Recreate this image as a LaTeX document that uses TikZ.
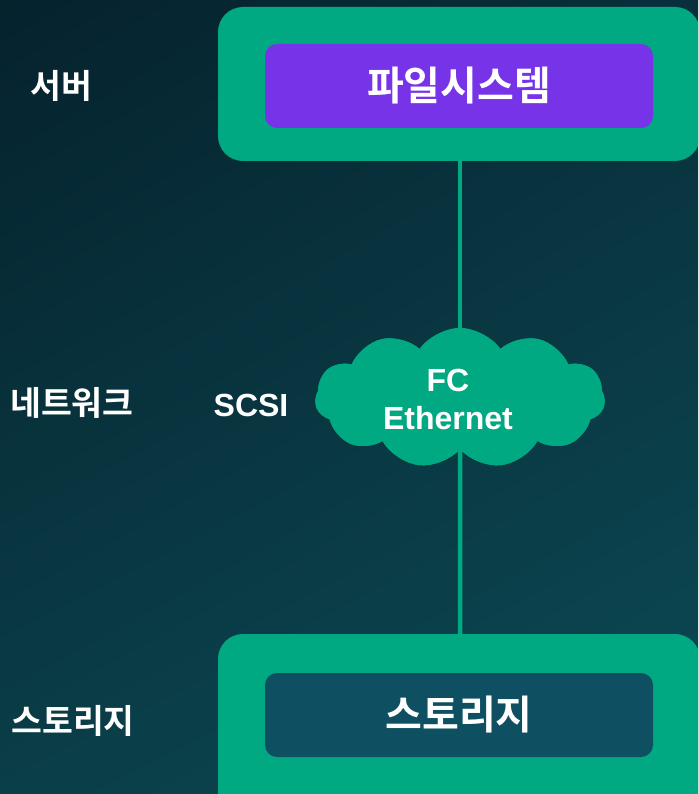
\documentclass[tikz,border=0pt]{standalone}
\usepackage{fontspec}
\setmainfont{Liberation Sans}
\newfontfamily\kr{Noto Sans CJK KR}[BoldFont={* Bold}]
\usetikzlibrary{shapes.symbols,shadings}
\definecolor{bgA}{RGB}{5,34,45}
\definecolor{bgB}{RGB}{8,48,60}
\definecolor{bgC}{RGB}{10,62,72}
\definecolor{bgD}{RGB}{12,74,84}
\definecolor{grn}{RGB}{0,169,129}
\definecolor{purp}{RGB}{119,51,232}
\definecolor{stor}{RGB}{14,80,98}
\tikzset{
  x=1pt,y=-1pt,
  outer/.style={fill=grn,rounded corners=25pt},
  innerbox/.style={rounded corners=12pt,minimum width=388pt,minimum height=84pt,text=white,font=\kr\bfseries\fontsize{40}{44}\selectfont},
  lbl/.style={text=white,font=\kr\bfseries\fontsize{33.5}{36}\selectfont},
  lat/.style={text=white,font=\bfseries\fontsize{32}{36}\selectfont},
  link/.style={draw=grn,line width=4.5pt},
  netcloud/.style={cloud,cloud puffs=11,cloud puff arc=110,aspect=2.1,fill=grn,minimum width=290pt,minimum height=140pt,inner sep=0pt},
}
\begin{document}
\begin{tikzpicture}
\useasboundingbox (0,0) rectangle (698,794);
\clip (0,0) rectangle (698,794);
\shade[upper left=bgA,upper right=bgB,lower left=bgC,lower right=bgD] (0,0) rectangle (698,794);
\path[outer] (218,7) rectangle (700,161);
\path[outer] (218,634) rectangle (700,830);
\node[innerbox,fill=purp] (fs) at (459,86) {파일시스템};
\node[innerbox,fill=stor] (st) at (459,715) {스토리지};
\coordinate (topbot) at (460,161);
\coordinate (botTop) at (460,634);
\node[netcloud] (net) at (460,398) {};
\draw[link] (topbot) -- (net.north);
\draw[link] (net.south) -- (botTop);
\node[netcloud] (net2) at (460,398) {};
\node[lat,align=center] (nettxt) at (448,399) {FC\\[2pt]Ethernet};
\node[lbl] (l1) at (61,86) {서버};
\node[lbl] (l2) at (72,403) {네트워크};
\node[lat] (l3) at (251,405) {SCSI};
\node[lbl] (l4) at (73,721) {스토리지};
\end{tikzpicture}
\end{document}
